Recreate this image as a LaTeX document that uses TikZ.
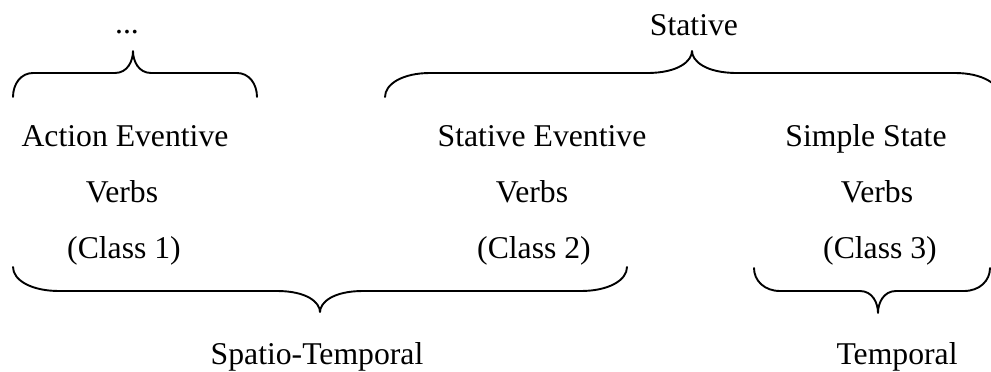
\documentclass[tikz,border=0pt]{standalone}
\usepackage{fontspec}
\setmainfont{Liberation Serif}
\tikzset{
  bracestyle/.style={line width=1.9pt, line cap=round, line join=round},
  lbl/.style={anchor=base, inner sep=0pt, font=\fontsize{31.7}{38}\selectfont}
}
% curly brace: #1 left x, #2 right x, #3 tip x, #4 end y, #5 flat y, #6 tip y,
% #7 end radius, #8 half width of the tip
\newcommand\curlybrace[8]{%
  \draw[bracestyle] (#1,#4)
    .. controls (#1,{#5+0.45*(#4-#5)}) and ({#1+0.4*#7},#5) .. ({#1+#7},#5)
    -- ({#3-#8},#5)
    .. controls ({#3-0.3*#8},#5) and (#3,{#5+0.55*(#6-#5)}) .. (#3,#6)
    .. controls (#3,{#5+0.55*(#6-#5)}) and ({#3+0.3*#8},#5) .. ({#3+#8},#5)
    -- ({#2-#7},#5)
    .. controls ({#2-0.4*#7},#5) and (#2,{#5+0.45*(#4-#5)}) .. (#2,#4);}
\begin{document}
\begin{tikzpicture}[x=1pt, y=-1pt]
\useasboundingbox (0,0) rectangle (991,372);

% top labels
\node[lbl] (dots) at (127,34) {...};
\node[lbl] (stative) at (694,35) {Stative};

% verb classes
\node[lbl] (c1a) at (125,146) {Action Eventive};
\node[lbl] (c1b) at (122,202) {Verbs};
\node[lbl] (c1c) at (124,258) {(Class 1)};

\node[lbl] (c2a) at (542,146) {Stative Eventive};
\node[lbl] (c2b) at (532,202) {Verbs};
\node[lbl] (c2c) at (534,258) {(Class 2)};

\node[lbl] (c3a) at (866,146) {Simple State};
\node[lbl] (c3b) at (877,202) {Verbs};
\node[lbl] (c3c) at (880,258) {(Class 3)};

% bottom labels
\node[lbl] (spt) at (317,364) {Spatio-Temporal};
\node[lbl] (tmp) at (897,364) {Temporal};

% braces above
\curlybrace{13}{257}{133}{97}{73}{51}{20}{18}
\curlybrace{385}{1000}{692}{97}{73}{51}{45}{45}

% braces below
\curlybrace{13}{627}{320}{267}{291}{312}{46}{43}
\curlybrace{754}{990}{878}{268}{291}{313}{26}{18}
\end{tikzpicture}
\end{document}
